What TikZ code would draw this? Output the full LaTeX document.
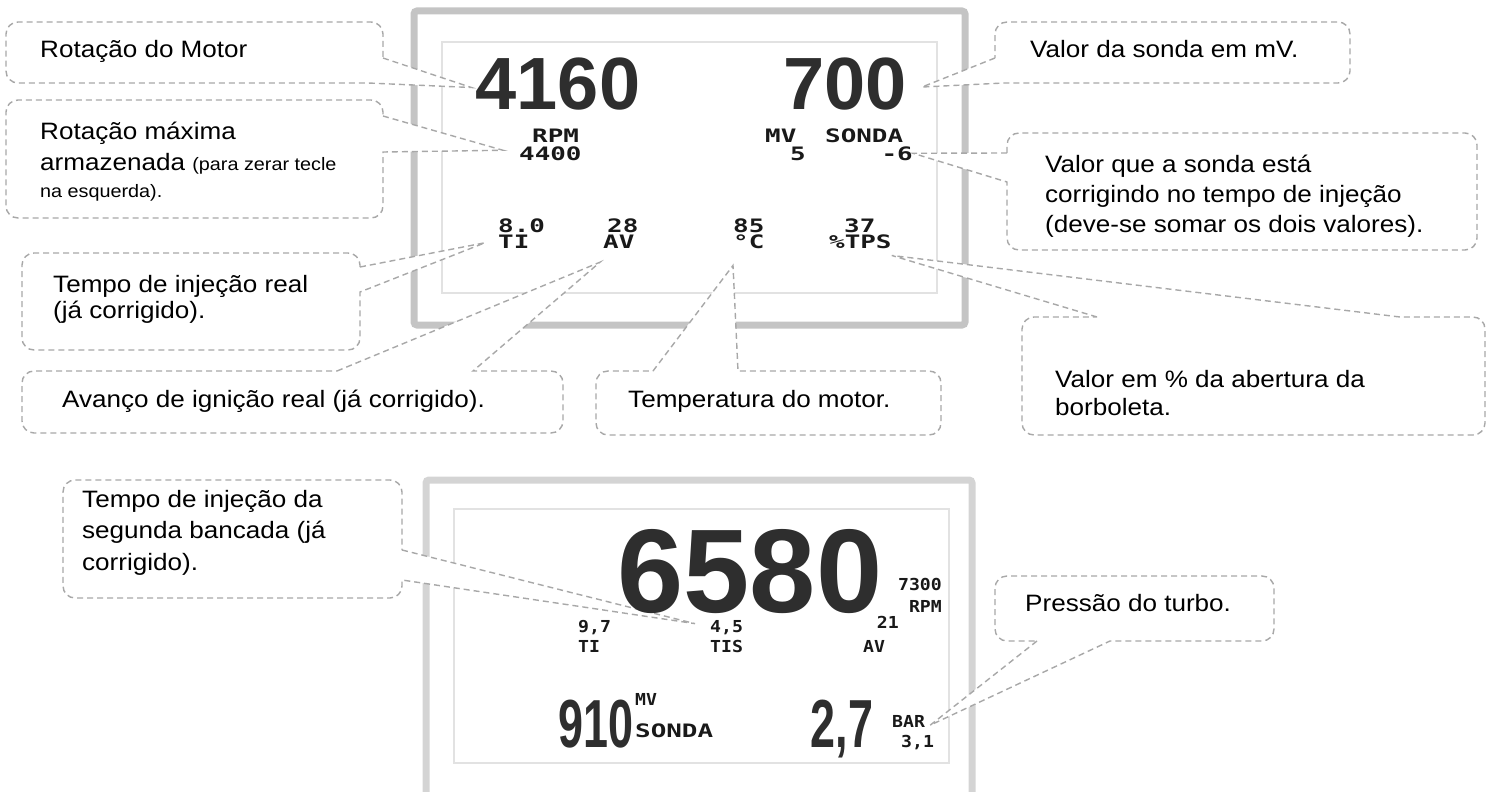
\documentclass[tikz,border=0pt]{standalone}
\usepackage{fontspec}
\usetikzlibrary{calc}

\newfontfamily\notefont[FakeStretch=1.1]{Liberation Sans}
\newfontfamily\digitfont{Liberation Sans}
\newfontfamily\narrowdigits[FakeStretch=0.66]{Liberation Sans}
\newfontfamily\lcdfont[FakeStretch=1.4]{DejaVu Sans Mono}
\newfontfamily\lcdsmallfont[FakeStretch=1.1]{DejaVu Sans Mono}
\newcommand{\notesmall}{\fontsize{18}{24}\selectfont}

\definecolor{bubbleline}{HTML}{A8A8A8}
\definecolor{framegray}{HTML}{C4C4C4}
\definecolor{framelight}{HTML}{D4D4D4}
\definecolor{innergray}{HTML}{E2E2E2}
\definecolor{lcdink}{HTML}{2E2E2E}

\pgfdeclarelayer{frame}
\pgfdeclarelayer{bubbles}
\pgfsetlayers{frame,bubbles,main}

\begin{document}
\begin{tikzpicture}[%
    x=1pt, y=-1pt,
    % Callouts (base = baseline of the last line)
    bubble/.style={draw=bubbleline, fill=white, line width=1.4pt, dash pattern=on 6pt off 4pt},
    bubblebox/.style={inner sep=0, outer sep=0, anchor=north west},
    note/.style={font=\notefont\fontsize{23.7}{30}\selectfont, inner sep=0, anchor=base west, align=left},
    % Display
    screen/.style={draw=framegray, line width=7pt, rounded corners=3pt, inner sep=0, outer sep=0, anchor=north west},
    glass/.style={draw=innergray, line width=1.5pt, fill=white, inner sep=0, outer sep=0, anchor=north west},
    bigdig/.style={font=\digitfont\bfseries\fontsize{74}{74}\selectfont, text=lcdink, inner sep=0},
    hugedig/.style={font=\digitfont\bfseries\fontsize{119}{119}\selectfont, text=lcdink, inner sep=0},
    middig/.style={font=\narrowdigits\bfseries\fontsize{68}{68}\selectfont, text=lcdink, inner sep=0},
    lcd/.style={font=\lcdfont\bfseries\fontsize{18.5}{18.5}\selectfont, text=black!90, inner sep=0},
    lcdsm/.style={font=\lcdsmallfont\bfseries\fontsize{16.5}{16.5}\selectfont, text=black!90, inner sep=0}
]

\useasboundingbox (0,0) rectangle (1494,792);

% --- 1. Display frames ---
\begin{pgfonlayer}{frame}
    \node[screen, minimum width=551pt, minimum height=314pt] (screen1) at (414,11) {};
    \node[glass, minimum width=495pt, minimum height=251pt] (glass1) at (442,42) {};
    \node[screen, draw=framelight, minimum width=546pt, minimum height=350pt] (screen2) at (426,480) {};
    \node[glass, minimum width=495pt, minimum height=254pt] (glass2) at (454,509) {};
\end{pgfonlayer}

% --- 2. Top display ---
\node[bigdig, anchor=base] (rpmbig) at (558,110) {4160};
\node[bigdig, anchor=base east] (sondabig) at (907,110) {700};
\node[lcd, anchor=base west] (rpmlbl) at (532,142) {RPM};
\node[lcd, anchor=base west] (rpmmax) at (519,160) {4400};
\node[lcd, anchor=base west] (mvlbl) at (765,142) {MV};
\node[lcd, anchor=base west] (sondalbl) at (825,142) {SONDA};
\node[lcd, anchor=base east] (sondaval) at (806,160) {5};
\node[lcd, anchor=base east] (corrval) at (913,160) {-6};
\node[lcd, anchor=base west] (tival) at (498,232) {8.0};
\node[lcd, anchor=base west] (tilbl) at (498,248) {TI};
\node[lcd, anchor=base west] (avval) at (607,232) {28};
\node[lcd, anchor=base west] (avlbl) at (603,248) {AV};
\node[lcd, anchor=base west] (tempval) at (733,232) {85};
\node[lcd, anchor=base west] (templbl) at (733,248) {°C};
\node[lcd, anchor=base west] (tpsval) at (844,232) {37};
\node[lcd, anchor=base west] (tpslbl) at (829,248) {\%TPS};

% --- 3. Bottom display ---
\node[hugedig, anchor=base] (rpmbig2) at (750,612) {6580};
\node[lcdsm, anchor=base east] (rpmmax2) at (942,590) {7300};
\node[lcdsm, anchor=base east] (rpmlbl2) at (942,612) {RPM};
\node[lcdsm, anchor=base east] (avval2) at (899,628) {21};
\node[lcdsm, anchor=base west] (avlbl2) at (863,652) {AV};
\node[lcdsm, anchor=base west] (tival2) at (578,632) {9,7};
\node[lcdsm, anchor=base west] (tilbl2) at (578,652) {TI};
\node[lcdsm, anchor=base west] (tisval) at (710,632) {4,5};
\node[lcdsm, anchor=base west] (tislbl) at (710,652) {TIS};
\node[middig, anchor=base] (sondabig2) at (596,747) {910};
\node[lcdsm, anchor=base west] (mvlbl2) at (635,705) {MV};
\node[lcd, anchor=base west] (sondalbl2) at (635,737) {SONDA};
\node[middig, anchor=base] (barval) at (842,747) {2,7};
\node[lcdsm, anchor=base west] (barlbl) at (892,727) {BAR};
\node[lcdsm, anchor=base west] (barmax) at (901,747) {3,1};

% --- 4. Callouts, top display ---
\node[bubblebox, minimum width=377pt, minimum height=61pt] (rotbox) at (6,22) {};
\node[note] (rottxt) at (40,58) {Rotação do Motor};

\node[bubblebox, minimum width=377pt, minimum height=118pt] (maxbox) at (6,100) {};
\node[note] (maxtxt) at (40,197) {Rotação máxima\\[1pt]armazenada {\notesmall(para zerar tecle}\\[-3pt]{\notesmall na esquerda).}};

\node[bubblebox, minimum width=355pt, minimum height=61pt] (sondabox) at (995,22) {};
\node[note] (sondatxt) at (1030,58) {Valor da sonda em mV.};

\node[bubblebox, minimum width=470pt, minimum height=117pt] (corrbox) at (1007,133) {};
\node[note] (corrtxt) at (1045,232) {Valor que a sonda está\\corrigindo no tempo de injeção\\(deve-se somar os dois valores).};

\node[bubblebox, minimum width=338pt, minimum height=97pt] (tibox) at (22,253) {};
\node[note] (titxt) at (53,318) {Tempo de injeção real\\[-4pt](já corrigido).};

\node[bubblebox, minimum width=541pt, minimum height=62pt] (avbox) at (22,371) {};
\node[note] (avtxt) at (62,407) {Avanço de ignição real (já corrigido).};

\node[bubblebox, minimum width=345pt, minimum height=64pt] (tempbox) at (596,371) {};
\node[note] (temptxt) at (628,407) {Temperatura do motor.};

\node[bubblebox, minimum width=463pt, minimum height=118pt] (tpsbox) at (1022,317) {};
\node[note] (tpstxt) at (1055,415) {Valor em \% da abertura da\\[-2pt]borboleta.};

% --- 5. Callouts, bottom display ---
\node[bubblebox, minimum width=339pt, minimum height=118pt] (tisbox) at (63,480) {};
\node[note] (tistxt) at (82,570) {Tempo de injeção da\\[1.5pt]segunda bancada (já\\[1.5pt]corrigido).};

\node[bubblebox, minimum width=279pt, minimum height=65pt] (barbox) at (995,576) {};
\node[note] (bartxt) at (1025,611) {Pressão do turbo.};

% Outlines with tails (white fill hides the frames below)
\begin{pgfonlayer}{bubbles}
    \draw[bubble] (rotbox.east |- 0,58) -- ($(rpmbig.west)+(-4,3)$) -- (rotbox.south -| 368,0)
        [rounded corners=12pt] -- (rotbox.south west) -- (rotbox.north west) -- (rotbox.north east) [sharp corners] -- cycle;
    \draw[bubble] (maxbox.east |- 0,116) -- ($(rpmmax.west)+(-16,-3)$) -- (maxbox.east |- 0,152)
        [rounded corners=12pt] -- (maxbox.south east) -- (maxbox.south west) -- (maxbox.north west) -- (maxbox.north east) [sharp corners] -- cycle;
    \draw[bubble] (sondabox.west |- 0,58) -- ($(sondabig.east)+(15,2.5)$) -- (sondabox.south -| 1004,0)
        [rounded corners=12pt] -- (sondabox.south east) -- (sondabox.north east) -- (sondabox.north west) [sharp corners] -- cycle;
    \draw[bubble] (corrbox.west |- 0,153) -- (corrval.east) -- (corrbox.west |- 0,182)
        [rounded corners=12pt] -- (corrbox.south west) -- (corrbox.south east) -- (corrbox.north east) -- (corrbox.north west) [sharp corners] -- cycle;
    \draw[bubble] (tibox.east |- 0,267) -- ($(tilbl.west)+(-13,1.5)$) -- (tibox.east |- 0,292)
        [rounded corners=12pt] -- (tibox.south east) -- (tibox.south west) -- (tibox.north west) -- (tibox.north east) [sharp corners] -- cycle;
    \draw[bubble] (avbox.north -| 337,0) -- ($(avlbl.south west)+(-3,14)$) -- (avbox.north -| 473,0)
        [rounded corners=12pt] -- (avbox.north east) -- (avbox.south east) -- (avbox.south west) -- (avbox.north west) [sharp corners] -- cycle;
    \draw[bubble] (tempbox.north -| 653,0) -- ($(templbl.south west)+(0,17)$) -- (tempbox.north -| 738,0)
        [rounded corners=12pt] -- (tempbox.north east) -- (tempbox.south east) -- (tempbox.south west) -- (tempbox.north west) [sharp corners] -- cycle;
    \draw[bubble] (tpsbox.north -| 1097,0) -- ($(tpslbl.south east)+(0,7)$) -- (tpsbox.north -| 1400,0)
        [rounded corners=12pt] -- (tpsbox.north east) -- (tpsbox.south east) -- (tpsbox.south west) -- (tpsbox.north west) [sharp corners] -- cycle;
    \draw[bubble] (tisbox.east |- 0,550) -- ($(tisval.west)+(-15,-3.5)$) -- (tisbox.east |- 0,580)
        [rounded corners=12pt] -- (tisbox.south east) -- (tisbox.south west) -- (tisbox.north west) -- (tisbox.north east) [sharp corners] -- cycle;
    \draw[bubble] (barbox.south -| 1037,0) -- ($(barlbl.south east)+(5,-2)$) -- (barbox.south -| 1110,0)
        [rounded corners=12pt] -- (barbox.south east) -- (barbox.north east) -- (barbox.north west) -- (barbox.south west) [sharp corners] -- cycle;
\end{pgfonlayer}

\end{tikzpicture}
\end{document}
